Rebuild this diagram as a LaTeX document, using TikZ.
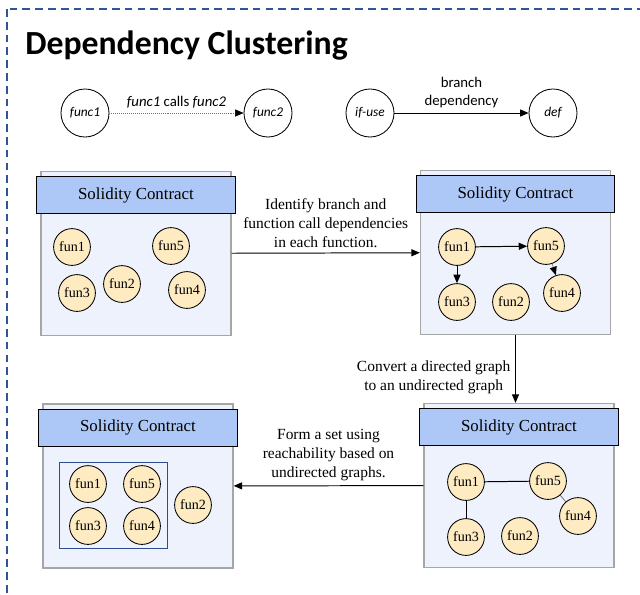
\documentclass[tikz,border=0pt]{standalone}
\usepackage{fontspec}
\setmainfont{Liberation Serif}
\newfontfamily\calibri{Carlito}
\usepackage{tikz}
\usetikzlibrary{arrows.meta,positioning,shapes.geometric}
\definecolor{frameblue}{HTML}{2F5597}
\definecolor{boxfill}{HTML}{EEF2FD}
\definecolor{headfill}{HTML}{ADC8F6}
\definecolor{funfill}{HTML}{FEEBC2}
\definecolor{groupblue}{HTML}{2E4D8C}

\begin{document}
\begin{tikzpicture}[x=0.025cm, y=-0.025cm,
  contract/.style={draw=black!35, line width=0.9pt, fill=boxfill, minimum width=4.75cm, minimum height=4.1cm},
  header/.style={draw, line width=0.7pt, fill=headfill, minimum width=4.95cm, minimum height=0.92cm, font=\fontsize{12}{14}\selectfont},
  fn/.style={circle, draw, line width=0.6pt, fill=funfill, minimum size=0.92cm, inner sep=0pt, font=\fontsize{10}{12}\selectfont},
  legendfn/.style={circle, draw, line width=0.6pt, minimum size=1.2cm, inner sep=0pt, font=\calibri\itshape\fontsize{9.5}{11}\selectfont},
  note/.style={align=center, font=\fontsize{11}{13.5}\selectfont},
  legendnote/.style={align=center, text=black, font=\calibri\fontsize{10.5}{13}\selectfont},
  arr/.style={-{Triangle[length=6pt, width=5pt]}, line width=0.7pt},
  thinarr/.style={-{Triangle[length=6pt, width=5pt, color=black]}, line width=0.4pt, black!55},
  edge/.style={line width=0.7pt},
  thinedge/.style={line width=0.4pt, black!70}
]
  \useasboundingbox (0,0) rectangle (640,594);
  \clip (0,0) rectangle (640,594);
  % outer dashed frame
  \draw[frameblue, line width=1.3pt, dash pattern=on 5.5pt off 3.6pt] (7,9) rectangle (680,640);
  \node[anchor=base west, inner sep=0pt, font=\calibri\bfseries\fontsize{24}{28}\selectfont] (title) at (25,54) {Dependency Clustering};

  % legend
  \node[legendfn] (func1) at (85,113) {func1};
  \node[legendfn] (func2) at (268,113) {func2};
  \node[legendfn] (ifuse) at (370,113) {if-use};
  \node[legendfn] (def) at (553,113) {def};
  \draw[thinarr, densely dotted] (func1) -- node[legendnote, above] {\itshape func1\/ \upshape calls \itshape func2} (func2);
  \draw[arr] (ifuse) -- node[legendnote, above] {branch\\dependency} (def);

  % contracts
  \node[contract] (c1) at (136,253.5) {};
  \node[contract] (c2) at (515.5,252.5) {};
  \node[contract] (c3) at (519,485.5) {};
  \node[contract] (c4) at (138,486) {};
  \node[header, below=0.14cm of c1.north] (h1) {Solidity Contract};
  \node[header, below=0.14cm of c2.north] (h2) {Solidity Contract};
  \node[header, below=0.14cm of c3.north] (h3) {Solidity Contract};
  \node[header, below=0.14cm of c4.north] (h4) {Solidity Contract};

  % contract 1: functions only
  \node[fn] (a1) at (72,247) {fun1};
  \node[fn] (a5) at (171,246) {fun5};
  \node[fn] (a3) at (77,293) {fun3};
  \node[fn] (a2) at (122,284) {fun2};
  \node[fn] (a4) at (187,290) {fun4};

  % contract 2: directed graph
  \node[fn] (b1) at (457,247) {fun1};
  \node[fn] (b5) at (546,246) {fun5};
  \node[fn] (b3) at (457,302) {fun3};
  \node[fn] (b2) at (511,302) {fun2};
  \node[fn] (b4) at (562,293) {fun4};
  \draw[arr] (b1) -- (b5);
  \draw[arr] (b1) -- (b3);
  \draw[thinarr] (b5) -- (b4);

  % contract 3: undirected graph
  \node[fn] (d1) at (466,482) {fun1};
  \node[fn] (d5) at (548,481) {fun5};
  \node[fn] (d4) at (578,516) {fun4};
  \node[fn] (d3) at (466,537) {fun3};
  \node[fn] (d2) at (520,536) {fun2};
  \draw[edge] (d1) -- (d5);
  \draw[edge] (d1) -- (d3);
  \draw[thinedge] (d5) -- (d4);

  % contract 4: reachable set
  \node[draw=groupblue, line width=0.7pt, minimum width=2.72cm, minimum height=2.15cm] (grp) at (113.5,505) {};
  \node[fn] (e1) at (88,484) {fun1};
  \node[fn] (e5) at (142,484) {fun5};
  \node[fn] (e3) at (88,526) {fun3};
  \node[fn] (e4) at (142,526) {fun4};
  \node[fn] (e2) at (193,505) {fun2};

  % steps
  \draw[arr] (c1) -- node[note, above] {Identify branch and\\function call dependencies\\in each function.} (c2);
  \draw[arr] (c2.south) -- node[note, left, yshift=-6pt] {Convert a directed graph\\to an undirected graph} (c2.south |- c3.north);
  \draw[arr] (c3) -- node[note, above] {Form a set using\\reachability based on\\undirected graphs.} (c4);
\end{tikzpicture}
\end{document}
